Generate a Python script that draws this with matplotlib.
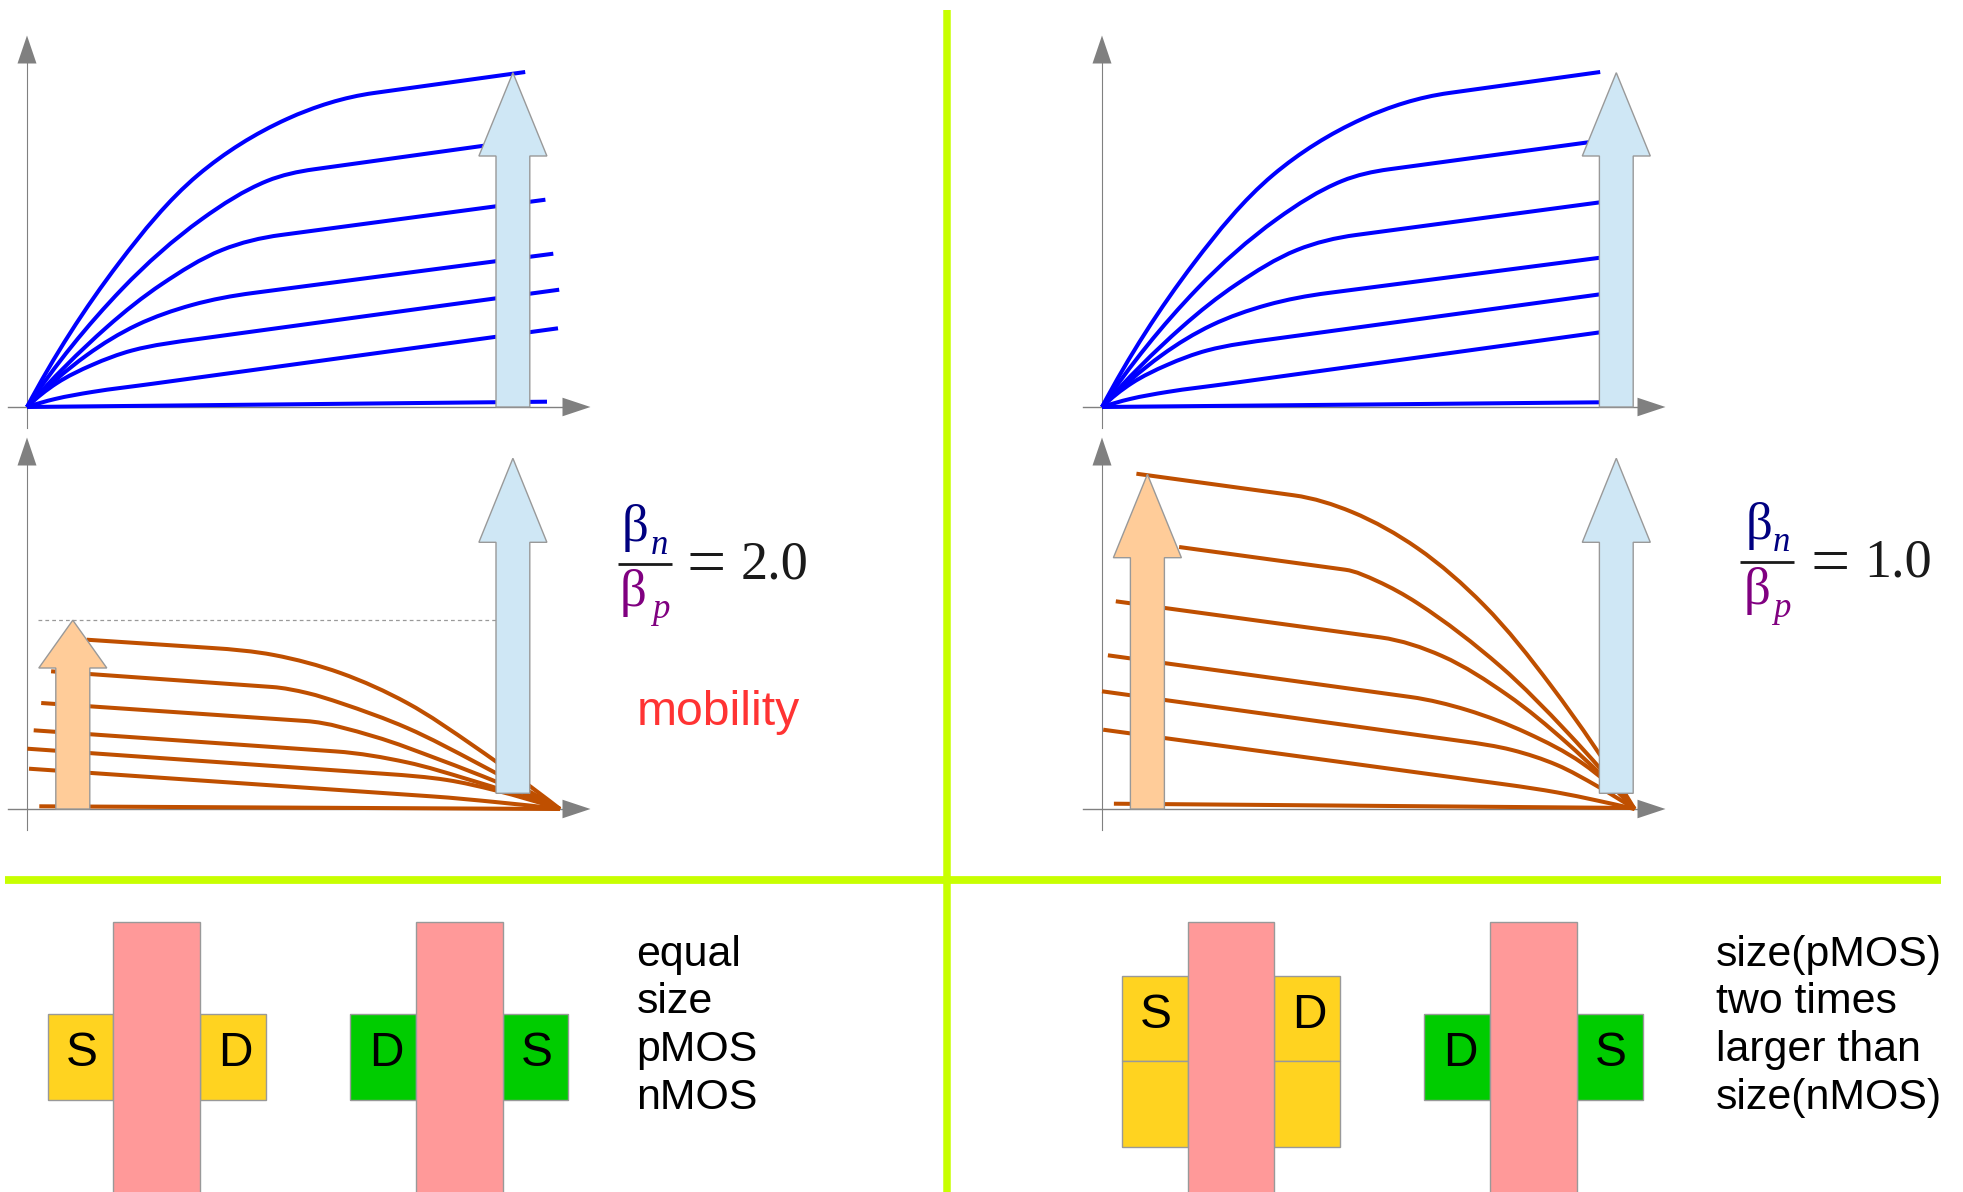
import numpy as np
import matplotlib
matplotlib.use('Agg')
import matplotlib.pyplot as plt
from matplotlib.path import Path
from matplotlib.patches import PathPatch, Polygon, Rectangle

blue_shape = [
    [(0, 0), (92, 144), (171, 232), (260, 288), (347, 314)],
    [(0, 0), (95, 118), (175, 188), (240, 226), (287, 237.7)],
    [(0, 0), (80, 80), (135, 123), (195, 157), (254, 172)],
    [(0, 0), (60, 52), (110, 82), (165, 102), (226, 114)],
    [(0, 0), (30, 24), (65, 42), (105, 56.5), (171, 68)],
    [(0, 0), (28, 8), (65, 15), (126, 23.3)],
    [(0, 0)],
]
blue_end_left = [(498.2, 335), (459.9, 261.7), (518.4, 207.3), (526.3, 153.3), (532.2, 117.3), (531, 78.7), (520, 5.3)]
blue_end_right = [(498.2, 335), (486.4, 264.7), (498.2, 204.7), (498.2, 149.3), (498.2, 112.7), (498.2, 74.7), (498.2, 4.7)]

brown_left = [
    [(59.7, 169.3), (185, 161), (246.8, 154), (313.5, 136), (380.2, 106), (446.8, 63), (533, 0)],
    [(24.1, 137.7), (245.2, 122), (280.2, 116), (313.5, 106), (380.2, 81), (450, 46), (533, 0)],
    [(14.2, 106), (278.5, 88), (346.8, 72.6), (413.5, 49), (470, 27), (533, 0)],
    [(6.7, 78.7), (308.5, 57.6), (380.2, 46.6), (440, 30), (533, 0)],
    [(0.4, 60.3), (360.2, 35), (420, 29), (468.5, 18.6), (533, 0)],
    [(2, 40.3), (405.2, 12.6), (470, 6.8), (533, 0)],
    [(12.3, 2.7), (533, 0)],
]
brown_right = [
    [(34.4, 335.3), (191.8, 313.7), (250, 297), (315.2, 261), (381.8, 204), (448.5, 124), (532.6, 0)],
    [(77.1, 262), (243.2, 239.3), (275, 228), (315.2, 206), (398.5, 142.6), (465, 77), (532.6, 0)],
    [(13.8, 207.7), (278.5, 171.6), (340, 153), (405, 114.3), (465, 66), (532.6, 0)],
    [(5.9, 153.7), (308.5, 112), (365, 99), (425, 76), (480, 46), (532.6, 0)],
    [(0, 117.7), (361.8, 67.6), (410, 59), (455, 44), (495, 23), (532.6, 0)],
    [(1.2, 79.3), (405.2, 24.3), (455, 16.6), (495, 8.5), (532.6, 0)],
    [(11.9, 5.3), (532.6, 1)],
]

# panel origins
x_left, x_right = 27, 1102
y_top, y_bottom = 407, 809

BLUE = '#0000ff'
BROWN = '#bf4f00'
GREY = '#808080'
EDGE = '#999999'
LIME = '#c8ff00'
PINK = '#ff9999'
AMBER = '#ffd320'
GREEN = '#00cc00'
SANS = 'Liberation Sans'
SERIF = 'Liberation Serif'

fig = plt.figure(figsize=(19.63, 11.92), dpi=100)
ax = fig.add_axes([0, 0, 1, 1])
ax.set_xlim(0, 1963)
ax.set_ylim(1192, 0)
ax.axis('off')


def unit(d):
    return d / np.hypot(*d)


def curve(points, ox, oy, color, straight_start=False):
    # smooth path through the read points; one end of each curve runs straight into its knot
    p = np.array(points, dtype=float)
    p = np.column_stack([ox + p[:, 0], oy - p[:, 1]])
    n = len(p)
    tang = np.zeros_like(p)
    for i in range(1, n - 1):
        tang[i] = unit(unit(p[i + 1] - p[i]) + unit(p[i] - p[i - 1]))
    if n > 2:
        if straight_start:
            tang[0] = tang[1] = unit(p[1] - p[0])
            chord = unit(p[-1] - p[-2])
            tang[-1] = 2 * np.dot(tang[-2], chord) * chord - tang[-2]
        else:
            tang[-1] = tang[-2] = unit(p[-1] - p[-2])
            chord = unit(p[1] - p[0])
            tang[0] = 2 * np.dot(tang[1], chord) * chord - tang[1]
    else:
        tang[0] = tang[1] = unit(p[1] - p[0])
    verts = [p[0]]
    codes = [Path.MOVETO]
    for i in range(n - 1):
        s = np.hypot(*(p[i + 1] - p[i])) / 3
        verts += [p[i] + tang[i] * s, p[i + 1] - tang[i + 1] * s, p[i + 1]]
        codes += [Path.CURVE4] * 3
    ax.add_patch(PathPatch(Path(verts, codes), fill=False, ec=color, lw=2.9, capstyle='butt', zorder=3))


def axes_arrows(ox, oy):
    ax.plot([ox, ox], [oy + 21, oy - 344], color=GREY, lw=0.8, zorder=2)
    ax.plot([ox - 19, ox + 540], [oy, oy], color=GREY, lw=1.0, zorder=2)
    ax.add_patch(Polygon([(ox - 9.5, oy - 343.5), (ox + 9.5, oy - 343.5), (ox, oy - 371.5)], fc=GREY, ec='none', zorder=2))
    ax.add_patch(Polygon([(ox + 535.5, oy - 9.3), (ox + 535.5, oy + 9.3), (ox + 563.5, oy)], fc=GREY, ec='none', zorder=2))


def block_arrow(cx, tip, shoulder, bottom, half_shaft, half_head, color):
    pts = [(cx - half_shaft, bottom), (cx - half_shaft, shoulder), (cx - half_head, shoulder), (cx, tip),
           (cx + half_head, shoulder), (cx + half_shaft, shoulder), (cx + half_shaft, bottom)]
    ax.add_patch(Polygon(pts, closed=True, fc=color, ec=EDGE, lw=1.0, zorder=5))


def rect(x0, x1, y0, y1, color, z=2):
    ax.add_patch(Rectangle((x0, y0), x1 - x0, y1 - y0, fc=color, ec=EDGE, lw=1.0, zorder=z))


def label(x, y, s, size=34.5):
    ax.text(x, y + 2, s, family=SANS, fontsize=size, color='black', ha='center', va='center', zorder=6)


def ratio(bar0, bar1, bar_y, n_x, n_y, sub_n, p_x, p_y, sub_p, eq_x, eq_y, val_x, val_y, value):
    ax.plot([bar0, bar1], [bar_y, bar_y], color='#1a1a1a', lw=2.0, solid_capstyle='butt')
    ax.text(n_x, n_y, 'β', family=SERIF, fontsize=38, color='#000080', va='baseline')
    ax.text(sub_n[0], sub_n[1], 'n', family=SERIF, style='italic', fontsize=25, color='#000080', va='baseline')
    ax.text(p_x, p_y, 'β', family=SERIF, fontsize=38, color='#800080', va='baseline')
    ax.text(sub_p[0], sub_p[1], 'p', family=SERIF, style='italic', fontsize=25, color='#800080', va='baseline')
    ax.text(eq_x, eq_y, '=', family=SERIF, fontsize=50, color='#1a1a1a', va='baseline')
    ax.text(val_x, val_y, value, family=SERIF, fontsize=39, color='#1a1a1a', va='baseline')


# dividers
ax.plot([946.5, 946.5], [10, 1192], color=LIME, lw=5.4, solid_capstyle='butt', zorder=1)
ax.plot([5, 1941], [880.2, 880.2], color=LIME, lw=5.6, solid_capstyle='butt', zorder=1)

for ox in (x_left, x_right):
    axes_arrows(ox, y_top)
    axes_arrows(ox, y_bottom)

for shape, end in zip(blue_shape, blue_end_left):
    curve(shape + [end], x_left, y_top, BLUE)
for shape, end in zip(blue_shape, blue_end_right):
    curve(shape + [end], x_right, y_top, BLUE)
for line in brown_left:
    curve(line, x_left, y_bottom, BROWN, straight_start=True)
for line in brown_right:
    curve(line, x_right, y_bottom, BROWN, straight_start=True)

ax.plot([38, 502], [620.2, 620.2], color='#999999', lw=0.9, ls=(0, (3, 2.5)), zorder=2)

# mobility arrows
for cx in (512.9, 1616.3):
    block_arrow(cx, 72.7, 156, y_top, 16.9, 34, '#cfe7f5')
    block_arrow(cx, 458.3, 542.3, 793.3, 16.9, 34, '#cfe7f5')
block_arrow(72.8, 620.2, 668, y_bottom, 17, 34, '#ffcc99')
block_arrow(1147.4, 474.3, 557.7, y_bottom, 17, 34, '#ffcc99')

ratio(618, 672, 564.3, 622, 541, (651, 554), 620, 606, (652, 618), 687, 585, 741, 578.5, '2.0')
ratio(1740, 1794, 562.3, 1746, 538.6, (1773, 551.3), 1744, 604.4, (1773, 616.7), 1810.5, 583.7, 1864, 576.5, '1.0')
ax.text(637, 725, 'mobility', family=SANS, fontsize=34.7, color='#ff3333', va='baseline')

# layouts
rect(48, 113.3, 1014.3, 1100.3, AMBER)
rect(200, 265.8, 1014.3, 1100.3, AMBER)
rect(350, 416.3, 1014.3, 1100.3, GREEN)
rect(502.6, 568.4, 1014.3, 1100.3, GREEN)
rect(1121.7, 1187.5, 976.3, 1061.3, AMBER)
rect(1121.7, 1187.5, 1061.3, 1147.3, AMBER)
rect(1273.7, 1339.6, 976.3, 1061.3, AMBER)
rect(1273.7, 1339.6, 1061.3, 1147.3, AMBER)
rect(1424, 1489.9, 1014.3, 1100.3, GREEN)
rect(1576.6, 1642.5, 1014.3, 1100.3, GREEN)
for x0, x1 in ((113.3, 200), (416.3, 502.6), (1187.5, 1273.7), (1489.9, 1576.6)):
    rect(x0, x1, 922.3, 1200, PINK, 3)

label(81.6, 1051.7, 'S')
label(235.7, 1051.7, 'D')
label(386, 1051.7, 'D')
label(536.7, 1051.7, 'S')
label(1156, 1013.3, 'S')
label(1309.7, 1013.3, 'D')
label(1460, 1051.7, 'D')
label(1611, 1051.7, 'S')

text_left = ['equal', 'size', 'pMOS', 'nMOS']
text_right = ['size(pMOS)', 'two times', 'larger than', 'size(nMOS)']
baselines = [965.7, 1013.3, 1061, 1109]
for s, y in zip(text_left, baselines):
    ax.text(636.5, y, s, family=SANS, fontsize=30.9, color='black', va='baseline')
for s, y in zip(text_right, baselines):
    ax.text(1716, y, s, family=SANS, fontsize=30.9, color='black', va='baseline')

fig.savefig('out.png', dpi=100, facecolor='white')
